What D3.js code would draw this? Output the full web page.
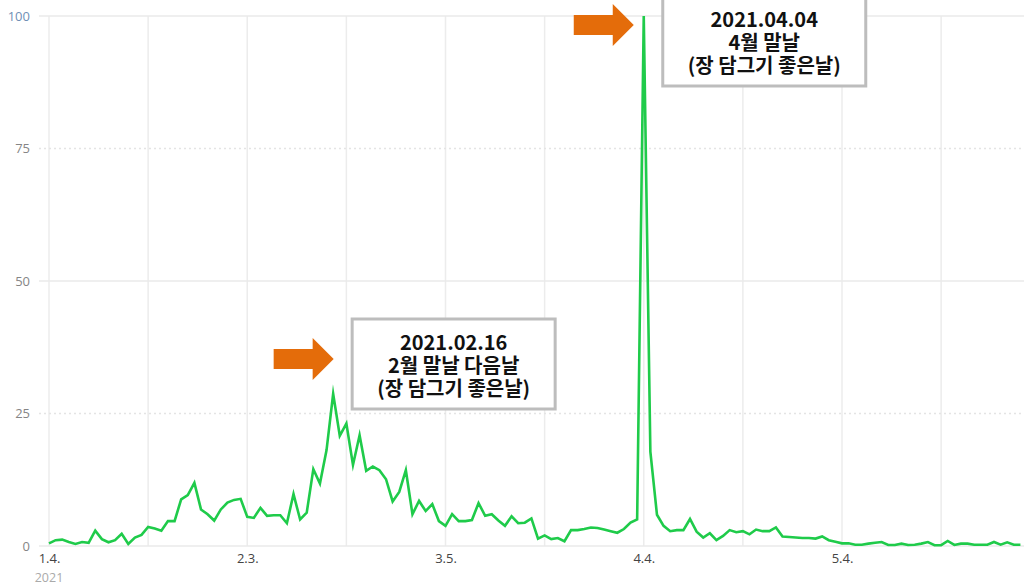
<!DOCTYPE html>
<html><head><meta charset="utf-8">
<script src="https://cdn.jsdelivr.net/npm/d3@7"></script>
<style>
html,body{margin:0;padding:0;background:#fff;}
svg{display:block;}
</style></head>
<body>
<svg id="chart" width="1024" height="586"></svg>
<script>
// ---- data ----
const startDate = "2021-01-04";
const values = [
0.5,1.1,1.2,0.75,0.4,0.75,0.6,2.9,1.3,0.7,
1.1,2.3,0.4,1.6,2.1,3.6,3.3,2.9,4.7,4.7,
8.8,9.6,11.9,6.9,6.0,4.8,6.9,8.2,8.7,8.9,
5.5,5.3,7.2,5.7,5.8,5.8,4.3,9.8,5.0,6.3,
14.5,11.8,18.1,28.7,20.8,23.1,15.3,20.9,14.2,15.0,
14.3,12.6,8.4,10.2,14.3,6.0,8.5,6.6,7.9,4.7,
3.8,6.0,4.7,4.7,4.9,8.1,5.7,6.0,4.8,3.8,
5.6,4.3,4.4,5.2,1.4,2.0,1.3,1.5,0.9,3.0,
3.0,3.2,3.5,3.4,3.1,2.8,2.5,3.2,4.4,5.0,
100,17.8,5.9,3.8,2.8,3.0,3.0,5.1,2.7,1.6,
2.4,1.1,1.9,3.0,2.6,2.8,2.2,3.1,2.8,2.8,
3.5,1.8,1.7,1.6,1.5,1.5,1.4,1.8,1.1,0.8,
0.5,0.5,0.25,0.25,0.45,0.6,0.75,0.2,0.2,0.45,
0.2,0.25,0.45,0.75,0.15,0.15,0.95,0.2,0.45,0.45,
0.25,0.25,0.25,0.75,0.25,0.7,0.25,0.25
];
const yTicks = [0, 25, 50, 75, 100];
const xTickDates = ["2021-01-04","2021-02-03","2021-03-05","2021-04-04","2021-05-04"];
const xTickLabels = ["1.4.","2.3.","3.5.","4.4.","5.4."];
const yearLabel = "2021";
const annotationDates = ["2021-02-16","2021-04-04"];
const annotationTexts = [
  ["2021.02.16","2월 말날 다음날","(장 담그기 좋은날)"],
  ["2021.04.04","4월 말날","(장 담그기 좋은날)"]
];

// ---- setup ----
const parse = d3.utcParse("%Y-%m-%d");
const t0 = parse(startDate);
const data = values.map((v,i)=>({date:d3.utcDay.offset(t0,i), value:v}));

const svg = d3.select("#chart");
const x = d3.scaleUtc().domain([parse("2021-01-04"), parse("2021-05-04")]).range([49, 842]);
const y = d3.scaleLinear().domain([0,100]).range([546, 16]);
const plotLeft = 39, plotRight = 1024;
const tickFont = "'Open Sans', 'Noto Sans', sans-serif";

// vertical gridlines every 15 days
const gridDates = d3.utcDay.range(t0, parse("2021-06-10")).filter((d,i)=>i%15===0);
svg.append("g").selectAll("line").data(gridDates.filter(d=>x(d)<plotRight)).join("line")
  .attr("x1",d=>x(d)).attr("x2",d=>x(d))
  .attr("y1",y(100)).attr("y2",y(0))
  .attr("stroke","#ececec").attr("stroke-width",1.5);

// horizontal gridlines
svg.append("g").selectAll("line").data(yTicks).join("line")
  .attr("x1",plotLeft).attr("x2",plotRight)
  .attr("y1",d=>y(d)).attr("y2",d=>y(d))
  .attr("stroke",d=>(d%50===0)?"#eaeaea":"#e4e4e4")
  .attr("stroke-width",1.3)
  .attr("stroke-dasharray",d=>(d%50===0)?null:"2,3");

// y axis labels
const yAxis = d3.axisLeft(y).tickValues(yTicks).tickSize(0).tickPadding(0);
const yg = svg.append("g").attr("transform","translate(30,0)").call(yAxis);
yg.select(".domain").remove();
yg.selectAll("text").attr("font-family",tickFont)
  .attr("font-size",13).attr("fill",d=>d===100?"#6f8fb5":"#858585");

// x axis labels
const xAxis = d3.axisBottom(x).tickValues(xTickDates.map(parse))
  .tickFormat((d,i)=>xTickLabels[i]).tickSize(0).tickPadding(0);
const xg = svg.append("g").attr("transform","translate(0,554)").call(xAxis);
xg.select(".domain").remove();
xg.selectAll("text").attr("font-family",tickFont)
  .attr("font-size",13).attr("fill","#444");
svg.append("text").attr("x",x(t0)).attr("y",582).attr("text-anchor","middle")
  .attr("font-family",tickFont).attr("font-size",12.5)
  .attr("fill","#aaa").text(yearLabel);

// line
const line = d3.line().x(d=>x(d.date)).y(d=>y(d.value));
svg.append("path").datum(data).attr("d",line)
  .attr("fill","none").attr("stroke","#1fcb4a").attr("stroke-width",2.6)
  .attr("stroke-linejoin","miter").attr("stroke-miterlimit",10);

// annotations
const arrowColor = "#E46C0A";
function arrow(tipX, tipY){
  const len = 60, headLen = 21, shaftH = 20, headH = 42;
  const pts = [
    [tipX-len, tipY-shaftH/2],[tipX-headLen, tipY-shaftH/2],[tipX-headLen, tipY-headH/2],
    [tipX, tipY],[tipX-headLen, tipY+headH/2],[tipX-headLen, tipY+shaftH/2],[tipX-len, tipY+shaftH/2]
  ];
  svg.append("polygon").attr("points",pts.map(p=>p.join(",")).join(" ")).attr("fill",arrowColor);
}
function box(left, top, lines){
  const w = 203, h = 90;
  svg.append("rect").attr("x",left).attr("y",top).attr("width",w).attr("height",h)
    .attr("fill","#fff").attr("stroke","#bdbdbd").attr("stroke-width",3);
  const t = svg.append("text").attr("text-anchor","middle")
    .attr("font-family","'Noto Sans CJK KR', sans-serif").attr("font-weight","bold")
    .attr("font-size",20).attr("fill","#111");
  lines.forEach((s,i)=>{
    t.append("tspan").attr("x",left+w/2).attr("y",top+24+i*23).attr("dy","0.35em").text(s);
  });
}
// annotation 1 (Feb 16)
const a1 = parse(annotationDates[0]);
arrow(x(a1)+0.5, 359);
box(x(a1)+19, 319, annotationTexts[0]);
// annotation 2 (Apr 4)
const a2 = parse(annotationDates[1]);
arrow(x(a2)-10, 25);
box(x(a2)+19, -4, annotationTexts[1]);
</script>
</body></html>
